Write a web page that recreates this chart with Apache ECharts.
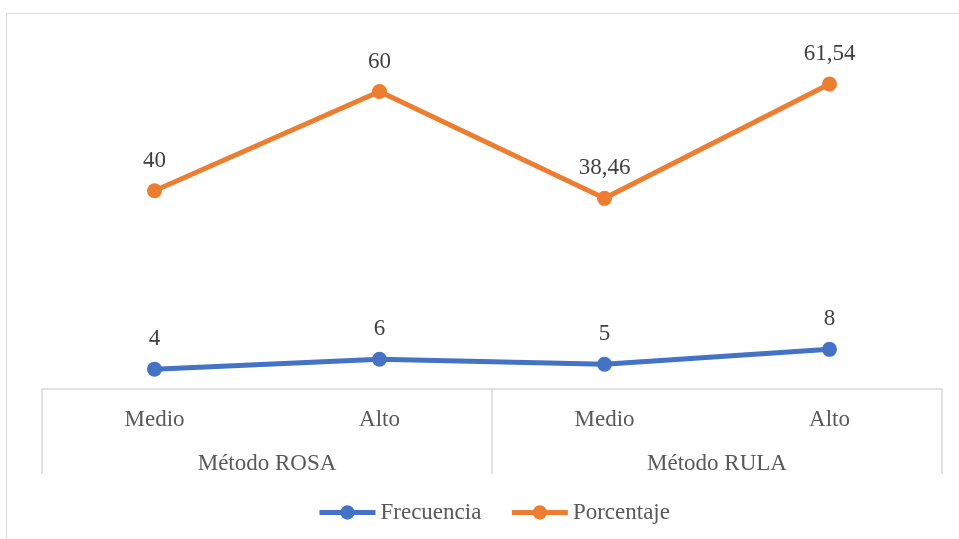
<!DOCTYPE html>
<html>
<head>
<meta charset="utf-8">
<script src="https://cdn.jsdelivr.net/npm/echarts@6/dist/echarts.min.js"></script>
<style>
  html, body { margin: 0; padding: 0; background: #ffffff; }
  #chart { width: 959px; height: 539px; }
</style>
</head>
<body>
<div id="chart"></div>
<script>
// Categories: level of risk inside each assessment method
const levels = ['Medio', 'Alto', 'Medio', 'Alto'];
const methods = ['Método ROSA', 'Método RULA'];

// Series values
const frecuencia = [4, 6, 5, 8];
const porcentaje = [40, 60, 38.46, 61.54];

const FONT = '"Liberation Serif", "Times New Roman", serif';
const FS = 23;
const fmt = v => String(v).replace('.', ',');

const chart = echarts.init(document.getElementById('chart'));

chart.setOption({
  animation: false,
  backgroundColor: '#ffffff',
  graphic: [{
    type: 'rect',
    shape: { x: 6.5, y: 13.5, width: 960, height: 540 },
    style: { fill: 'none', stroke: '#d9d9d9', lineWidth: 1 },
    silent: true
  }],
  grid: { left: 42, right: 17, top: 42, bottom: 150, containLabel: false },
  legend: {
    left: 312,
    top: 496,
    itemWidth: 56,
    itemHeight: 18,
    itemGap: 28,
    lineStyle: { width: 5 },
    textStyle: { fontFamily: FONT, fontSize: FS, color: '#595959' },
    data: ['Frecuencia', 'Porcentaje']
  },
  xAxis: [{
    type: 'category',
    data: levels,
    boundaryGap: true,
    axisLine: { show: true, lineStyle: { color: '#d9d9d9', width: 1.5 } },
    axisTick: { show: false },
    axisLabel: { margin: 19, fontFamily: FONT, fontSize: FS, color: '#595959' }
  }, {
    type: 'category',
    data: methods,
    position: 'bottom',
    boundaryGap: true,
    axisLine: { show: false },
    axisTick: { show: true, length: 85, lineStyle: { color: '#d9d9d9', width: 1.5 } },
    axisLabel: { margin: 63, fontFamily: FONT, fontSize: FS, color: '#595959' }
  }],
  yAxis: {
    type: 'value',
    min: 0,
    max: 70,
    show: false,
    splitLine: { show: false }
  },
  series: [{
    name: 'Frecuencia',
    type: 'line',
    data: frecuencia,
    color: '#4472C4',
    lineStyle: { width: 5, color: '#4472C4' },
    symbol: 'circle',
    symbolSize: 15,
    itemStyle: { color: '#4472C4' },
    label: {
      show: true, position: 'top', distance: 11,
      fontFamily: FONT, fontSize: FS, color: '#404040',
      formatter: p => fmt(p.value)
    }
  }, {
    name: 'Porcentaje',
    type: 'line',
    data: porcentaje,
    color: '#ED7D31',
    lineStyle: { width: 5, color: '#ED7D31' },
    symbol: 'circle',
    symbolSize: 15,
    itemStyle: { color: '#ED7D31' },
    label: {
      show: true, position: 'top', distance: 11,
      fontFamily: FONT, fontSize: FS, color: '#404040',
      formatter: p => fmt(p.value)
    }
  }]
});
</script>
</body>
</html>
